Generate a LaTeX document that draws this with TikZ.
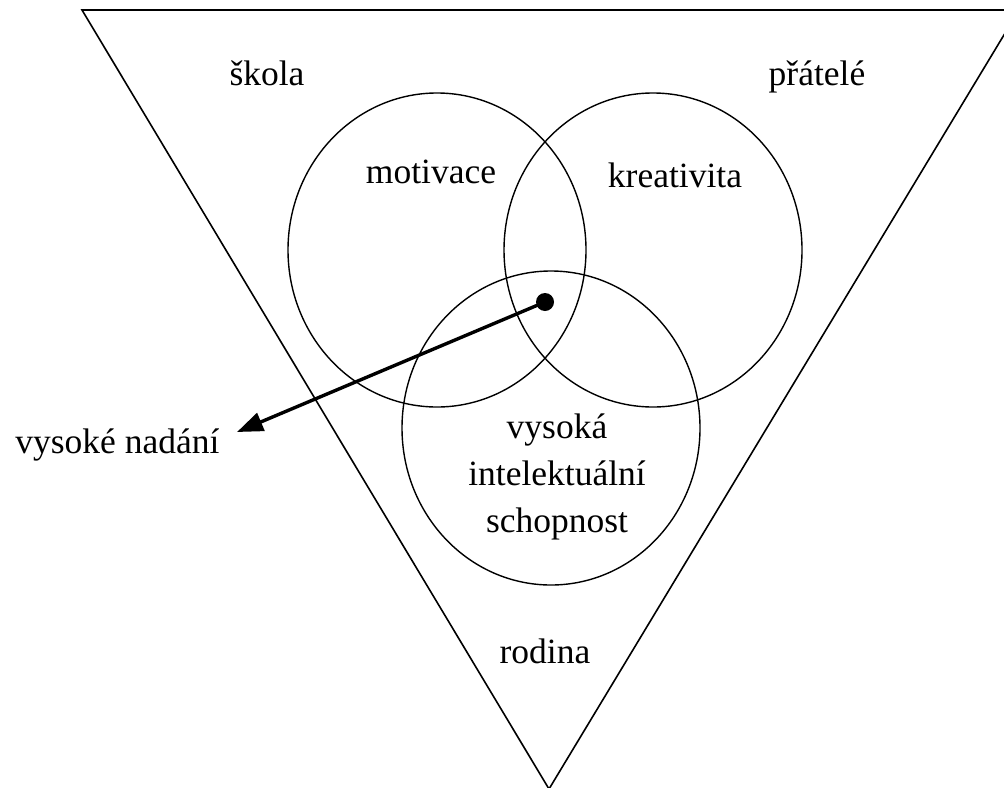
\documentclass[tikz,border=0pt]{standalone}
\usepackage{fontspec}
\setmainfont{Liberation Serif}
\usetikzlibrary{shapes.geometric,arrows.meta}
\begin{document}
\begin{tikzpicture}[x=0.5pt,y=-0.5pt,
  lbl/.style={inner sep=0pt,font=\fontsize{17.75}{23.5}\selectfont},
  ring/.style={ellipse,draw,line width=0.7pt,minimum width=149pt,minimum height=157pt,inner sep=0pt},
  frame/.style={line width=0.8pt,line join=miter},
  pointer/.style={line width=1.7pt,-{Triangle[length=13pt,width=9.5pt]}},
  dotstyle/.style={circle,fill=black,inner sep=0pt,minimum size=9pt}]
\useasboundingbox (0,0) rectangle (1004,787);
% triangle
\coordinate (tl) at (82,10);
\coordinate (tr) at (1019,10);
\coordinate (bv) at (549,789);
\draw[frame] (tl) -- (tr) -- (bv) -- cycle;
% circles
\node[ring] (cm) at (437,250) {};
\node[ring] (ck) at (653,250) {};
\node[ring] (cv) at (551,428) {};
% labels
\node[lbl,anchor=base] (skola) at (267,85) {škola};
\node[lbl,anchor=base] (pratele) at (817,85) {přátelé};
\node[lbl,anchor=base] (motivace) at (431,183) {motivace};
\node[lbl,anchor=base] (kreativita) at (675,187) {kreativita};
\node[lbl,align=center] (vis) at (557,477) {vysoká\\intelektuální\\schopnost};
\node[lbl,anchor=base] (rodina) at (545,663) {rodina};
\node[lbl,anchor=base west] (nadani) at (15,453) {vysoké nadání};
% dot and arrow
\node[dotstyle] (dot) at (545,302) {};
\coordinate (tip) at (237,432);
\draw[pointer] (dot.center) -- (tip);
\end{tikzpicture}
\end{document}
